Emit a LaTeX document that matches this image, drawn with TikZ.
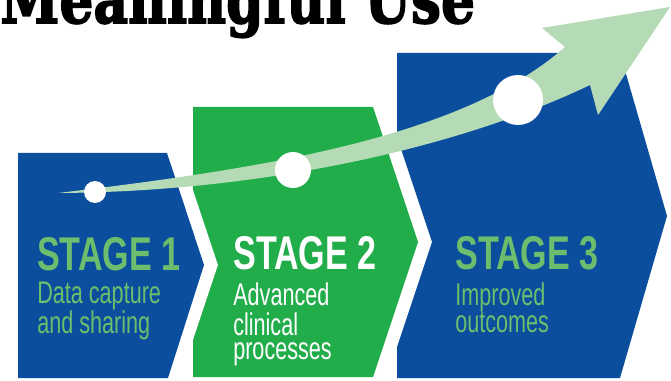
\documentclass[tikz,border=0pt]{standalone}
\usepackage{graphicx}
\usepackage{fontspec}
\setmainfont{Liberation Sans}
\newfontfamily\titlefont{DejaVu Serif}[BoldFeatures={FakeBold=2.5}]

\definecolor{stageblue}{HTML}{0B4E9D}
\definecolor{stagegreen}{HTML}{22AD4B}
\definecolor{bandgreen}{HTML}{B4DAB6}
\definecolor{textgreen}{HTML}{6CBE6E}

\tikzset{
    stagehead/.style={anchor=base west,inner sep=0pt,font=\bfseries\fontsize{35.5}{36}\selectfont},
    stagetext/.style={anchor=base west,inner sep=0pt,font=\fontsize{23.5}{18.5}\selectfont},
    dot/.style={circle,fill=white,inner sep=0pt,minimum size=#1},
}
\newcommand{\narrow}[2]{\scalebox{#1}[1]{#2}}

\begin{document}
\begin{tikzpicture}[x=0.75pt,y=-0.75pt]
    \useasboundingbox (0,0) rectangle (671,381);
    \clip (0,0) rectangle (671,381);
    % title, cut at the top
    \node[anchor=base west,inner sep=0pt] (title) at (0,23)
        {\resizebox{356pt}{38pt}{\titlefont\bfseries Meaningful Use}};
    % the three stages
    \fill[stageblue] (18,153) -- (167,153) -- (204,265) -- (168,378) -- (18,378) -- cycle;
    \fill[stagegreen] (193,107) -- (373,107) -- (418,242) -- (373,377) -- (193,377)
        -- (193,340) -- (218,265) -- (193,190) -- cycle;
    \fill[stageblue] (397,53) -- (620,53) -- (667,216) -- (620,378) -- (397,378)
        -- (397,347) -- (432,242) -- (397,137) -- cycle;
    % rising arrow
    \fill[bandgreen] (58,193) .. controls (250,170) and (460,140) .. (565,47)
        -- (542,28) -- (670,7) -- (598,115) -- (590,85)
        .. controls (450,152) and (250,192) .. (58,193) -- cycle;
    \node[dot=16.5pt] (dot1) at (95,192) {};
    \node[dot=27pt] (dot2) at (293,170) {};
    \node[dot=37.5pt] (dot3) at (518,100) {};
    % labels
    \node[stagehead,textgreen] (head1) at (37,270) {\narrow{0.72}{STAGE 1}};
    \node[stagetext,textgreen] (text1) at (37,303)
        {\narrow{0.69}{\begin{tabular}[t]{@{}l@{}}Data capture\\and sharing\end{tabular}}};
    \node[stagehead,white] (head2) at (233,269) {\narrow{0.72}{STAGE 2}};
    \node[stagetext,white] (text2) at (233,305)
        {\narrow{0.69}{\begin{tabular}[t]{@{}l@{}}Advanced\\clinical\\processes\end{tabular}}};
    \node[stagehead,textgreen] (head3) at (455,269) {\narrow{0.72}{STAGE 3}};
    \node[stagetext,textgreen] (text3) at (455,305)
        {\narrow{0.69}{\begin{tabular}[t]{@{}l@{}}Improved\\outcomes\end{tabular}}};
\end{tikzpicture}
\end{document}
